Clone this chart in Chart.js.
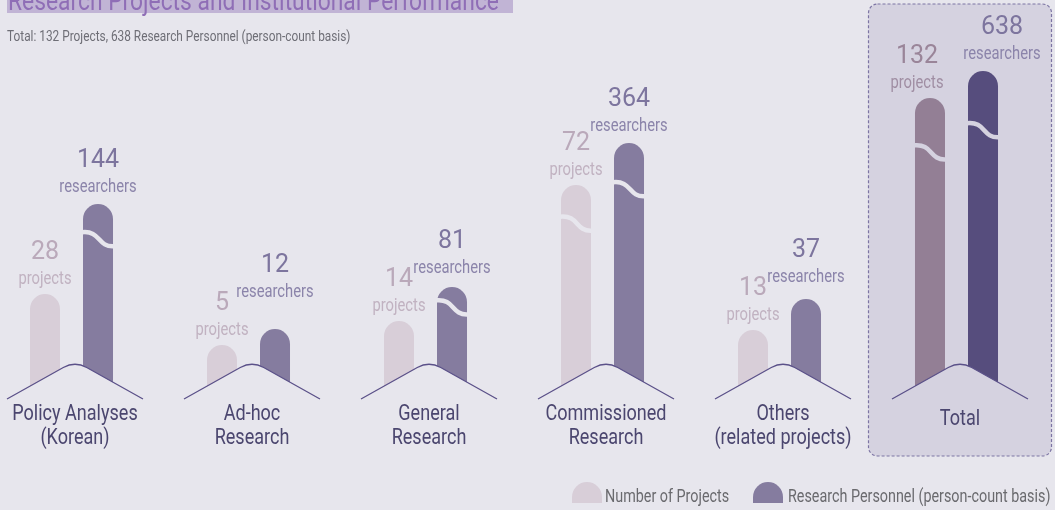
<!DOCTYPE html>
<html>
<head>
<meta charset="utf-8">
<script src="https://cdn.jsdelivr.net/npm/chart.js@4.4.0/dist/chart.umd.min.js"></script>
<style>
  html, body { margin: 0; padding: 0; background: #e7e6ed; overflow: hidden; }
  canvas { display: block; }
</style>
</head>
<body>
<canvas id="grafico" width="1055" height="510"></canvas>
<script>
// Dados do quadro
const categories = [
    ['Policy Analyses', '(Korean)'],
    ['Ad-hoc', 'Research'],
    ['General', 'Research'],
    ['Commissioned', 'Research'],
    ['Others', '(related projects)'],
    ['Total']
];
const projects = [28, 5, 14, 72, 13, 132];
const researchers = [144, 12, 81, 364, 37, 638];

// The original axis is broken (not to scale): bar lengths as drawn, read on a 0-100 scale
const projectBars = [26.5, 13.75, 19.75, 53.75, 17.5, 75.5];
const researcherBars = [49, 17.75, 28.25, 64.25, 25.25, 82.25];
const projectBroken = [false, false, false, true, false, true];
const researcherBroken = [true, false, true, true, false, true];

const legendLabels = ['Number of Projects', 'Research Personnel (person-count basis)'];
const titleText = 'Research Projects and Institutional Performance';
const subtitleText = 'Total: 132 Projects, 638 Research Personnel (person-count basis)';

const BG = '#e7e6ed';
const BOX_BG = '#d5d2e0';
const LINE = '#5b5189';
const TOTAL = categories.length - 1;

// texto "condensado": Roboto apertado na horizontal
function txt(ctx, s, x, y, size, color, opt = {}) {
    ctx.save();
    ctx.font = `${opt.weight || 400} ${size}px Roboto`;
    ctx.fillStyle = color;
    ctx.textBaseline = opt.baseline || 'middle';
    ctx.textAlign = opt.align || 'center';
    ctx.translate(x, y);
    ctx.scale(opt.sq ?? 0.82, 1);
    ctx.fillText(s, 0, 0);
    ctx.restore();
}

function dome(ctx, x, top, w, h, color) {
    const r = w / 2;
    ctx.beginPath();
    ctx.moveTo(x, top + h);
    ctx.lineTo(x, top + r);
    ctx.arc(x + r, top + r, r, Math.PI, 2 * Math.PI);
    ctx.lineTo(x + w, top + h);
    ctx.closePath();
    ctx.fillStyle = color;
    ctx.fill();
}

const infoPlugin = {
    id: 'info',
    beforeDatasetsDraw(chart) {
        const ctx = chart.ctx;
        const cx = chart.scales.x.getPixelForValue(TOTAL);

        // caixa tracejada do total
        ctx.save();
        ctx.beginPath();
        ctx.roundRect(cx - 88, 4, 183, 452, 9);
        ctx.fillStyle = BOX_BG;
        ctx.fill();
        ctx.setLineDash([3, 2]);
        ctx.lineWidth = 1.2;
        ctx.strokeStyle = '#7c74a3';
        ctx.stroke();
        ctx.restore();

        // título (cortado no topo) e subtítulo
        ctx.fillStyle = '#c1b4d5';
        ctx.fillRect(7, 0, 506, 13);
        txt(ctx, titleText, 8, 10, 28, '#8f6eb6', { align: 'left', baseline: 'alphabetic', sq: 0.815 });
        txt(ctx, subtitleText, 7, 41, 15, '#6e6e76', { align: 'left', baseline: 'alphabetic', sq: 0.79 });

        // legenda
        dome(ctx, 572, 482, 30, 21, '#d8ced8');
        txt(ctx, legendLabels[0], 605, 502, 17.5, '#6a6a6e', { align: 'left', baseline: 'alphabetic' });
        dome(ctx, 753, 482, 30, 21, '#857c9f');
        txt(ctx, legendLabels[1], 788, 502, 17.5, '#6a6a6e', { align: 'left', baseline: 'alphabetic' });
    },
    afterDatasetsDraw(chart) {
        const ctx = chart.ctx;
        const xs = chart.scales.x;
        const bottom = chart.chartArea.bottom;
        const pMeta = chart.getDatasetMeta(0);
        const rMeta = chart.getDatasetMeta(1);

        // quebras onduladas nas barras "cortadas"
        function squiggle(bar, color) {
            const yc = bar.y + 0.18 * (bar.base - bar.y);
            const L = bar.x - bar.width / 2 - 1;
            const R = bar.x + bar.width / 2 + 1;
            ctx.save();
            ctx.beginPath();
            ctx.moveTo(L, yc - 7);
            ctx.bezierCurveTo(bar.x + 3, yc - 9, bar.x - 1, yc + 8, R, yc + 7);
            ctx.lineWidth = 4.5;
            ctx.strokeStyle = color;
            ctx.stroke();
            ctx.restore();
        }
        categories.forEach((c, i) => {
            const col = i === TOTAL ? BOX_BG : BG;
            if (projectBroken[i]) squiggle(pMeta.data[i], col);
            if (researcherBroken[i]) squiggle(rMeta.data[i], col);
        });

        // "telhados" sob cada grupo
        categories.forEach((c, i) => {
            const cx = xs.getPixelForValue(i) + 3.5;
            const y0 = bottom - 1;
            ctx.save();
            ctx.beginPath();
            ctx.moveTo(cx - 68, y0);
            ctx.arcTo(cx, y0 - 38, cx + 68, y0, 24);
            ctx.lineTo(cx + 68, y0);
            ctx.lineTo(cx + 68, y0 + 4);
            ctx.lineTo(cx - 68, y0 + 4);
            ctx.closePath();
            ctx.fillStyle = i === TOTAL ? BOX_BG : BG;
            ctx.fill();
            ctx.beginPath();
            ctx.moveTo(cx - 68, y0);
            ctx.arcTo(cx, y0 - 38, cx + 68, y0, 24);
            ctx.lineTo(cx + 68, y0);
            ctx.lineWidth = 1.3;
            ctx.strokeStyle = LINE;
            ctx.stroke();
            ctx.restore();

            // rótulo da categoria
            if (c.length === 1) {
                txt(ctx, c[0], cx, 419, 22, '#4b466f');
            } else {
                txt(ctx, c[0], cx, 414, 22, '#4b466f');
                txt(ctx, c[1], cx, 438, 22, '#4b466f');
            }
        });

        // valores acima das barras
        categories.forEach((c, i) => {
            const pb = pMeta.data[i];
            const rb = rMeta.data[i];
            const isTotal = i === TOTAL;
            const pUnit = pb.y - 15;
            let rUnit = rb.y - 17;
            if (!isTotal) rUnit = Math.min(rUnit, pUnit - 38);
            const px = isTotal ? pb.x - 13 : pb.x;
            const rx = isTotal ? rb.x + 19 : rb.x;

            txt(ctx, String(projects[i]), px, pUnit - 26, 25, isTotal ? '#9a8599' : '#baa9ba', { sq: 1 });
            txt(ctx, 'projects', px, pUnit, 18, isTotal ? '#a08ea3' : '#c1b2c1');
            txt(ctx, String(researchers[i]), rx, rUnit - 26, 25, '#7d759e', { sq: 1 });
            txt(ctx, 'researchers', rx, rUnit, 18, '#8b84aa');
        });
    }
};

new Chart(document.getElementById('grafico'), {
    type: 'bar',
    data: {
        labels: categories,
        datasets: [{
            label: legendLabels[0],
            data: projectBars,
            backgroundColor: ctx => ctx.dataIndex === TOTAL ? '#937f95' : '#d8ced8'
        }, {
            label: legendLabels[1],
            data: researcherBars,
            backgroundColor: ctx => ctx.dataIndex === TOTAL ? '#564d7d' : '#857c9f'
        }]
    },
    options: {
        responsive: false,
        animation: false,
        devicePixelRatio: 1,
        datasets: {
            bar: {
                clip: false,
                categoryPercentage: 0.599,
                barPercentage: 0.566,
                borderRadius: { topLeft: 15, topRight: 15, bottomLeft: 0, bottomRight: 0 },
                borderSkipped: 'start'
            }
        },
        layout: {
            padding: { left: 71.5, right: 98.5, top: 0, bottom: 110 }
        },
        scales: {
            x: { display: false, offset: false, grid: { display: false } },
            y: { display: false, min: 0, max: 100 }
        },
        plugins: {
            legend: { display: false },
            title: { display: false },
            tooltip: { enabled: false }
        }
    },
    plugins: [infoPlugin]
});
</script>
</body>
</html>
